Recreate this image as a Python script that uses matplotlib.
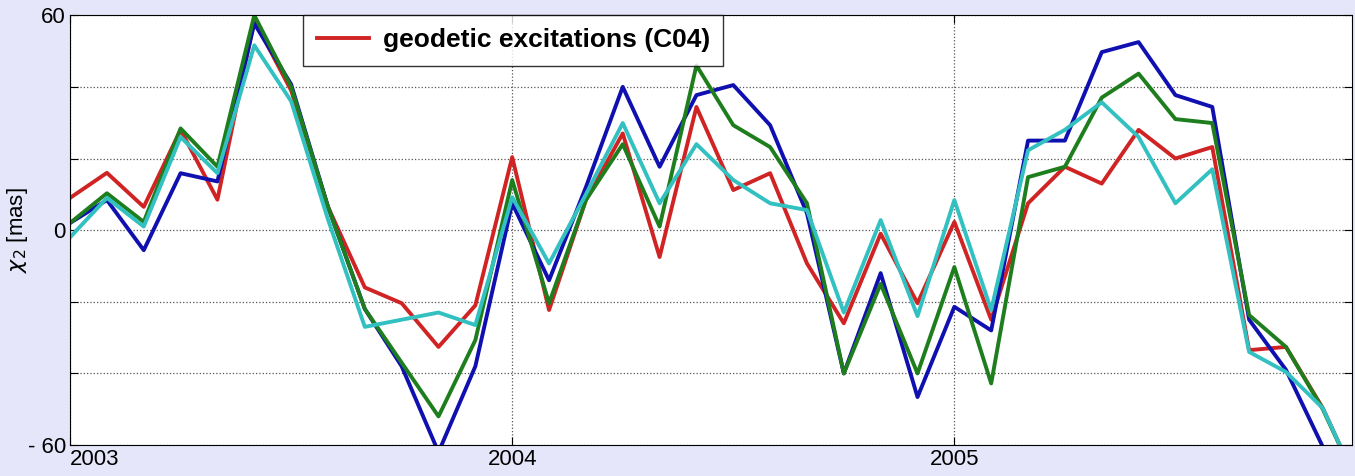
import numpy as np
import matplotlib.pyplot as plt

plt.rcParams["font.family"] = ["Liberation Sans", "DejaVu Sans"]

# monthly samples starting 2003.0
red = [9, 16, 6.5, 28, 8.5, 58.6, 39, 6.5, -16, -20.4, -32.6, -21, 20.4,
       -22.3, 8.4, 27, -7.5, 34.4, 11.2, 15.9, -9.3, -26, -1, -20.4, 2.3,
       -25, 7.5, 17.7, 13, 28, 20, 23.2, -33.5, -32.6, -49.7, -72]
green = [2, 10.3, 2.3, 28.4, 17.7, 60, 40, 6.5, -22, -37, -52, -30.7, 14,
         -20.4, 8.4, 24, 1, 46, 29.3, 23.2, 7.5, -40, -15, -40, -10.3,
         -42.8, 14.8, 17.7, 37, 43.7, 31, 29.9, -23.7, -32.6, -50, -72]
blue = [2, 8.4, -5.6, 15.9, 13.6, 57.7, 40.7, 6.5, -22, -38, -62, -38, 7.5,
        -14, 12, 40, 17.7, 37.7, 40.5, 29.3, 4.7, -40, -12, -46.6, -21.4,
        -28, 25, 25, 49.7, 52.5, 37.7, 34.4, -25, -39, -60.5, -80]
cyan = [-2, 9, 1, 26, 15.9, 51.6, 36, 3, -27, -25, -23, -26.5, 9.2,
        -9.3, 10, 29.9, 7.5, 24, 14, 7.5, 5.6, -23, 2.8, -24, 8.4,
        -22.3, 22.3, 28, 35.7, 26, 7.5, 17, -34, -39.6, -49.7, -72]
t = 2003 + np.arange(len(red)) / 12.0

fig = plt.figure(figsize=(13.55, 4.76), dpi=100)
fig.patch.set_facecolor("#e6e6fa")
ax = fig.add_axes([0.0517, 0.065, 0.9463, 0.903])

ax.plot(t, red, color="#d02424", lw=2.8, label="geodetic excitations (C04)")
ax.plot(t, blue, color="#1010b0", lw=2.8, label="_nolegend_")
ax.plot(t, green, color="#1e7e1e", lw=2.8, label="_nolegend_")
ax.plot(t, cyan, color="#33c0c0", lw=2.8, label="_nolegend_")

ax.set_xlim(2003, 2005.9)
ax.set_ylim(-60, 60)
ax.set_yticks([-60, -40, -20, 0, 20, 40, 60])
ax.set_yticklabels(["- 60", "", "", "0", "", "", "60"])
ax.set_xticks([2003, 2004, 2005])
ax.set_xticklabels(["2003", "2004", "2005"])
ax.get_xticklabels()[0].set_horizontalalignment("left")
ax.tick_params(labelsize=16, direction="in", length=6, right=True, top=True, pad=3)
ax.grid(True, ls=":", color="#555555", lw=0.9)
ax.set_ylabel(r"$\chi_2$ [mas]", fontsize=16, labelpad=-2)

leg = ax.legend(loc="upper left", bbox_to_anchor=(0.182, 1.0), fancybox=False,
                edgecolor="black", prop={"weight": "bold", "size": 19},
                borderpad=0.5, handlelength=2.0, handletextpad=0.5,
                borderaxespad=0.0)
leg.get_frame().set_linewidth(1.0)

fig.savefig("out.png", dpi=100, facecolor=fig.get_facecolor())
